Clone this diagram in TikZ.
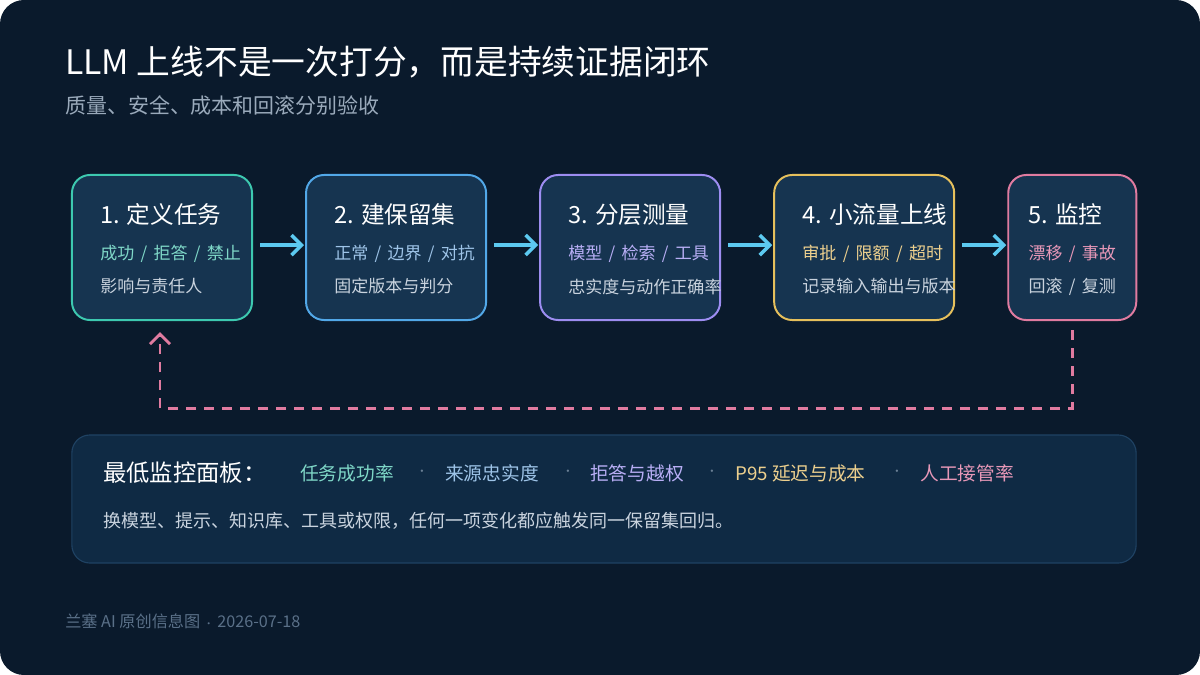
\documentclass[tikz,border=0pt]{standalone}
\usepackage{fontspec}
\setmainfont{Noto Sans CJK SC}
\usepackage{xcolor}
\usetikzlibrary{arrows.meta, positioning, calc}

\definecolor{pagebg}{HTML}{0A1A2C}
\definecolor{boxfill}{HTML}{163450}
\definecolor{panelfill}{HTML}{0F2A44}
\definecolor{panelline}{HTML}{1F4263}
\definecolor{tealc}{HTML}{3DC9B0}
\definecolor{tealt}{HTML}{7FD8C8}
\definecolor{bluec}{HTML}{52A8E8}
\definecolor{bluet}{HTML}{9EC4E8}
\definecolor{purplec}{HTML}{9D8DF1}
\definecolor{purplet}{HTML}{B8AEF5}
\definecolor{goldc}{HTML}{E6C05C}
\definecolor{goldt}{HTML}{EDD08E}
\definecolor{pinkc}{HTML}{E07BA0}
\definecolor{pinkt}{HTML}{E898B8}
\definecolor{notec}{HTML}{C9D3DE}
\definecolor{arrowc}{HTML}{5CC9F0}
\definecolor{subc}{HTML}{9AAABB}
\definecolor{footc}{HTML}{5A7088}
\definecolor{dotc}{HTML}{6A7F95}

\newcommand\slsep{\hspace{0.37em}/\hspace{0.37em}}

\tikzset{
  stagebox/.style={rectangle, rounded corners=0.45cm, minimum width=4.5cm, minimum height=3.625cm, line width=1.4pt, outer sep=0pt, fill=boxfill},
  stagetitle/.style={anchor=west, inner sep=0pt, text=white, font=\fontsize{16.8pt}{20pt}\selectfont},
  stagetag/.style={anchor=west, inner sep=0pt, font=\fontsize{12.1pt}{14pt}\selectfont},
  stagenote/.style={anchor=west, inner sep=0pt, text=notec, font=\fontsize{12.1pt}{14pt}\selectfont},
  flow/.style={line width=2.5pt, arrowc, -{Straight Barb[length=0.25cm,width=0.5cm]}, shorten <=0.2cm, shorten >=0.05cm},
  backloop/.style={line width=2.1pt, pinkc, dash pattern=on 0.25cm off 0.2cm, -{Straight Barb[length=0.25cm,width=0.5cm]}},
  metric/.style={anchor=west, inner sep=0pt, font=\fontsize{13.3pt}{15pt}\selectfont},
  sep/.style={anchor=center, inner sep=0pt, text=dotc, font=\fontsize{8pt}{10pt}\selectfont}
}

\begin{document}
\begin{tikzpicture}[x=0.025cm, y=-0.025cm, node distance=1.35cm]

% page
\useasboundingbox (0,0) rectangle (1200,675);
\fill[white] (0,0) rectangle (1200,675);
\fill[pagebg, rounded corners=0.6cm] (0,0) rectangle (1200,675);

\node (title) [anchor=west, inner sep=0pt, text=white, font=\fontsize{24pt}{28pt}\selectfont] at (65,62) {LLM 上线不是一次打分，而是持续证据闭环};
\node (subtitle) [anchor=west, inner sep=0pt, text=subc, font=\fontsize{14.9pt}{17pt}\selectfont] at (65,105) {质量、安全、成本和回滚分别验收};

% stages
\node (b1) [stagebox, draw=tealc] at (162,247.5) {};
\node (b2) [stagebox, draw=bluec, right=of b1] {};
\node (b3) [stagebox, draw=purplec, right=of b2] {};
\node (b4) [stagebox, draw=goldc, right=of b3] {};
\node (b5) [stagebox, draw=pinkc, minimum width=3.2cm, right=of b4] {};

\node (t1) [stagetitle] at ($(b1.west)+(28,-33)$) {1. 定义任务};
\node (g1) [stagetag, text=tealt] at ($(b1.west)+(28,6)$) {成功\slsep 拒答\slsep 禁止};
\node (n1) [stagenote] at ($(b1.west)+(28,39)$) {影响与责任人};

\node (t2) [stagetitle] at ($(b2.west)+(28,-33)$) {2. 建保留集};
\node (g2) [stagetag, text=bluet] at ($(b2.west)+(28,6)$) {正常\slsep 边界\slsep 对抗};
\node (n2) [stagenote] at ($(b2.west)+(28,39)$) {固定版本与判分};

\node (t3) [stagetitle] at ($(b3.west)+(28,-33)$) {3. 分层测量};
\node (g3) [stagetag, text=purplet] at ($(b3.west)+(28,6)$) {模型\slsep 检索\slsep 工具};
\node (n3) [stagenote] at ($(b3.west)+(28,39)$) {忠实度与动作正确率};

\node (t4) [stagetitle] at ($(b4.west)+(28,-33)$) {4. 小流量上线};
\node (g4) [stagetag, text=goldt] at ($(b4.west)+(28,6)$) {审批\slsep 限额\slsep 超时};
\node (n4) [stagenote] at ($(b4.west)+(28,39)$) {记录输入输出与版本};

\node (t5) [stagetitle] at ($(b5.west)+(20,-33)$) {5. 监控};
\node (g5) [stagetag, text=pinkt] at ($(b5.west)+(20,6)$) {漂移\slsep 事故};
\node (n5) [stagenote] at ($(b5.west)+(20,39)$) {回滚\slsep 复测};

% main flow
\draw [flow] ([yshift=0.06cm]b1.east) -- ([yshift=0.06cm]b2.west);
\draw [flow] ([yshift=0.06cm]b2.east) -- ([yshift=0.06cm]b3.west);
\draw [flow] ([yshift=0.06cm]b3.east) -- ([yshift=0.06cm]b4.west);
\draw [flow] ([yshift=0.06cm]b4.east) -- ([yshift=0.06cm]b5.west);

% feedback loop
\draw [backloop] ([yshift=-0.25cm]b5.south) -- ++(0,78) -| ([xshift=-0.05cm, yshift=-0.3cm]b1.south);

% dashboard panel
\node (panel) [rectangle, rounded corners=0.45cm, minimum width=26.6cm, minimum height=3.2cm, fill=panelfill, draw=panelline, line width=0.8pt] at (604,499) {};
\node (head) [anchor=west, inner sep=0pt, text=white, font=\fontsize{16.6pt}{19pt}\selectfont] at (103,473) {最低监控面板：};
\node (m1) [metric, text=tealt] at (300,473) {任务成功率};
\node (d1) [sep] at (422,473) {·};
\node (m2) [metric, text=bluet] at (445,473) {来源忠实度};
\node (d2) [sep] at (568,473) {·};
\node (m3) [metric, text=purplet] at (590,473) {拒答与越权};
\node (d3) [sep] at (712,473) {·};
\node (m4) [metric, text=goldt] at (735,473) {P95 延迟与成本};
\node (d4) [sep] at (897,473) {·};
\node (m5) [metric, text=pinkt] at (920,473) {人工接管率};
\node (rule) [anchor=west, inner sep=0pt, text=notec, font=\fontsize{12.8pt}{15pt}\selectfont] at (103,521) {换模型、提示、知识库、工具或权限，任何一项变化都应触发同一保留集回归。};

% footer
\node (foot) [anchor=west, inner sep=0pt, text=footc, font=\fontsize{11.5pt}{13pt}\selectfont] at (65,621) {兰塞 AI 原创信息图 {\fontsize{7pt}{8pt}\selectfont·} 2026-07-18};

\end{tikzpicture}
\end{document}
